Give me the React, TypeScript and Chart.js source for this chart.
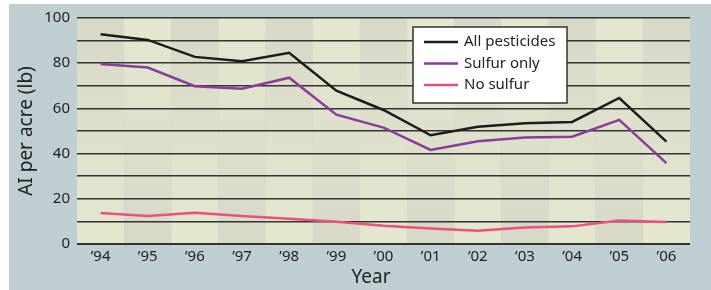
import React, { useEffect, useRef } from "react";
import { Chart, registerables } from "chart.js";

Chart.register(...registerables);

const years = ["’94", "’95", "’96", "’97", "’98", "’99", "’00", "’01", "’02", "’03", "’04", "’05", "’06"];
const allPesticides = [92.8, 90.3, 82.8, 80.9, 84.6, 67.8, 59.3, 48.1, 51.9, 53.4, 54.0, 64.6, 45.3];
const sulfurOnly = [79.6, 78.1, 69.8, 68.7, 73.6, 57.2, 51.5, 41.6, 45.5, 47.1, 47.5, 54.9, 35.8];
const noSulfur = [13.7, 12.4, 13.8, 12.4, 11.2, 9.8, 8.1, 6.9, 5.9, 7.3, 7.8, 10.4, 9.7];
const yTickValues = [0, 20, 40, 60, 80, 100];
const seriesNames = ["All pesticides", "Sulfur only", "No sulfur"];
const seriesColors = ["#1c1c1c", "#8b3a9d", "#ec4f7d"];

const FONT = "'Noto Sans', sans-serif";

const decorPlugin = {
  id: "decor",
  beforeDraw(chart: any) {
    const { ctx, chartArea, scales } = chart;
    ctx.save();
    ctx.fillStyle = "#ffffff";
    ctx.fillRect(0, 0, chart.width, chart.height);
    ctx.fillStyle = "#bfced2";
    ctx.fillRect(9, 4, chart.width - 9, chart.height - 4);
    const xs = scales.x;
    const n = years.length;
    const w = (chartArea.right - chartArea.left) / n;
    for (let i = 0; i < n; i++) {
      const cx = xs.getPixelForValue(i);
      const g = ctx.createLinearGradient(0, chartArea.top, 0, chartArea.bottom);
      const gray = "#d7d8c7";
      const light = "#e5e8cf";
      if (i % 2 === 0) {
        g.addColorStop(0, gray);
        g.addColorStop(1, light);
      } else {
        g.addColorStop(0, light);
        g.addColorStop(1, gray);
      }
      ctx.fillStyle = g;
      ctx.fillRect(cx - w / 2, chartArea.top, w, chartArea.bottom - chartArea.top);
    }
    ctx.restore();
  },
  afterDraw(chart: any) {
    const { ctx, chartArea } = chart;
    ctx.save();
    // axis titles
    ctx.fillStyle = "#222222";
    ctx.font = `19px ${FONT}`;
    ctx.textAlign = "center";
    ctx.textBaseline = "middle";
    ctx.fillText("Year", 371, 278);
    ctx.translate(27, (chartArea.top + chartArea.bottom) / 2);
    ctx.rotate(-Math.PI / 2);
    ctx.fillText("AI per acre (lb)", 0, 0);
    ctx.restore();

    // legend
    ctx.save();
    const bx = 413, by = 27, bw = 154, bh = 76;
    ctx.fillStyle = "#ffffff";
    ctx.fillRect(bx, by, bw, bh);
    ctx.strokeStyle = "#333333";
    ctx.lineWidth = 1.5;
    ctx.strokeRect(bx, by, bw, bh);
    const rows = [42, 63.5, 85];
    ctx.font = `15px ${FONT}`;
    ctx.textAlign = "left";
    ctx.textBaseline = "middle";
    chart.data.datasets.forEach((ds: any, i: number) => {
      ctx.strokeStyle = ds.borderColor;
      ctx.lineWidth = 2.5;
      ctx.beginPath();
      ctx.moveTo(424, rows[i]);
      ctx.lineTo(458, rows[i]);
      ctx.stroke();
      ctx.fillStyle = "#222222";
      ctx.fillText(ds.label, 464, rows[i]);
    });
    ctx.restore();
  },
};

export default function App() {
  const ref = useRef<HTMLCanvasElement | null>(null);
  useEffect(() => {
    if (!ref.current) return;
    const chart = new Chart(ref.current, {
      type: "line",
      data: {
        labels: years,
        datasets: [allPesticides, sulfurOnly, noSulfur].map((d, i) => ({
          label: seriesNames[i],
          data: d,
          borderColor: seriesColors[i],
          backgroundColor: seriesColors[i],
          borderWidth: 2.5,
          pointRadius: 0,
          tension: 0,
          fill: false,
        })),
      },
      options: {
        responsive: false,
        animation: false,
        layout: { padding: { left: 0, right: 21, top: 18, bottom: 0 } },
        plugins: { legend: { display: false }, tooltip: { enabled: false } },
        scales: {
          x: {
            type: "category",
            offset: true,
            grid: { display: false, drawTicks: false },
            border: { display: false },
            ticks: { color: "#222222", font: { family: FONT, size: 15 }, padding: 4, maxRotation: 0, autoSkip: false },
            afterFit: (s: any) => { s.height = 46; },
          },
          y: {
            min: 0,
            max: 100,
            grid: {
              color: "#333333",
              lineWidth: (c: any) => (c.tick && c.tick.value === 0 ? 2 : 1.5),
              drawTicks: false,
            },
            border: { display: false },
            ticks: {
              stepSize: 10,
              color: "#222222",
              font: { family: FONT, size: 15 },
              padding: 7,
              callback: (v: any) => (yTickValues.includes(Number(v)) ? String(v) : ""),
            },
            afterFit: (s: any) => { s.width = 77; },
          },
        },
      },
      plugins: [decorPlugin],
    });
    return () => chart.destroy();
  }, []);
  return (
    <div style={{ position: "fixed", left: 0, top: 0, width: 711, height: 290 }}>
      <canvas ref={ref} width={711} height={290} />
    </div>
  );
}
